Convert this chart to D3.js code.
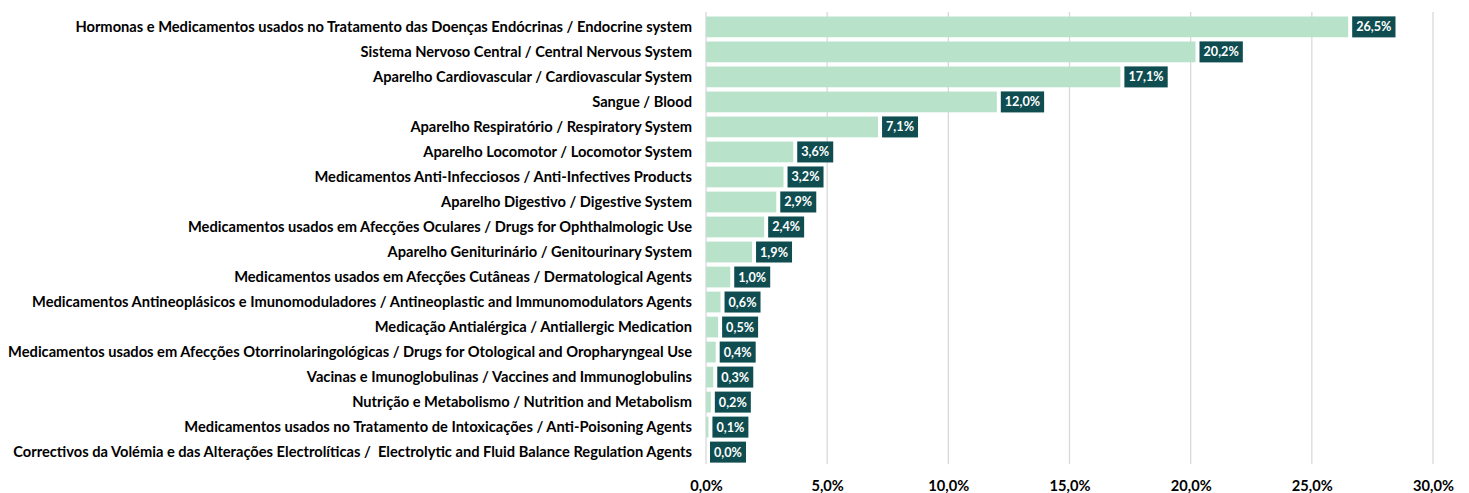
<!DOCTYPE html>
<html><head><meta charset="utf-8">
<script src="https://cdn.jsdelivr.net/npm/d3@7"></script>
<style>body{margin:0;background:#fff;} svg{display:block;} text{white-space:pre;}</style>
</head><body>
<svg id="c" width="1469" height="493"></svg>
<script>
const categories = [
"Hormonas e Medicamentos usados no Tratamento das Doenças Endócrinas / Endocrine system",
"Sistema Nervoso Central / Central Nervous System",
"Aparelho Cardiovascular / Cardiovascular System",
"Sangue / Blood",
"Aparelho Respiratório / Respiratory System",
"Aparelho Locomotor / Locomotor System",
"Medicamentos Anti-Infecciosos / Anti-Infectives Products",
"Aparelho Digestivo / Digestive System",
"Medicamentos usados em Afecções Oculares / Drugs for Ophthalmologic Use",
"Aparelho Geniturinário / Genitourinary System",
"Medicamentos usados em Afecções Cutâneas / Dermatological Agents",
"Medicamentos Antineoplásicos e Imunomoduladores / Antineoplastic and Immunomodulators Agents",
"Medicação Antialérgica / Antiallergic Medication",
"Medicamentos usados em Afecções Otorrinolaringológicas / Drugs for Otological and Oropharyngeal Use",
"Vacinas e Imunoglobulinas / Vaccines and Immunoglobulins",
"Nutrição e Metabolismo / Nutrition and Metabolism",
"Medicamentos usados no Tratamento de Intoxicações / Anti-Poisoning Agents",
"Correctivos da Volémia e das Alterações Electrolíticas /  Electrolytic and Fluid Balance Regulation Agents"
];
const values = [26.5,20.2,17.1,12.0,7.1,3.6,3.2,2.9,2.4,1.9,1.0,0.6,0.5,0.4,0.3,0.2,0.1,0.0];
const ticks = [0,5,10,15,20,25,30];

const svg = d3.select("#c");
const FONT = "Lato,'Open Sans',sans-serif";
const x = d3.scaleLinear().domain([0,30]).range([706,1433]);
const y = d3.scaleBand().domain(categories).range([14.5,464.5]).paddingInner(0.17).paddingOuter(0.08);
const fmt = v => v.toFixed(1).replace(".", ",") + "%";

// gridlines
svg.append("g").selectAll("line").data(ticks).join("line")
  .attr("x1", d=>x(d)).attr("x2", d=>x(d)).attr("y1", 12).attr("y2", 464)
  .attr("stroke", "#d9d9d9").attr("stroke-width", 1.3);

// bars
svg.append("g").selectAll("rect").data(values).join("rect")
  .attr("x", x(0)).attr("y", (d,i)=>y(categories[i]))
  .attr("width", d=>Math.max(0, x(d)-x(0))).attr("height", y.bandwidth())
  .attr("fill", "#b9e2cb");

// category labels (squeezed horizontally to mimic the condensed original face)
const LX = 692;
const lg = svg.append("g");
const labels = lg.selectAll("text").data(categories).join("text")
  .attr("x", 0).attr("y", d=>y(d)+y.bandwidth()/2).attr("dy","0.36em")
  .attr("text-anchor","end").attr("font-family",FONT).attr("font-size",14.5).attr("font-weight","bold")
  .attr("fill","#000").text(d=>d);
let maxW = 0; labels.each(function(){ maxW = Math.max(maxW, this.getComputedTextLength()); });
const sx = 684 / maxW;
lg.attr("transform", `translate(${LX},0) scale(${sx},1)`);

// axis
const ax = svg.append("g").attr("transform","translate(0,476)")
  .call(d3.axisBottom(x).tickValues(ticks).tickFormat(fmt).tickSize(0));
ax.select(".domain").remove();
ax.selectAll("text").attr("font-family",FONT).attr("font-size",14.5).attr("font-weight","bold").attr("fill","#000")
  .attr("dy","0.85em").attr("x",0).attr("transform",`scale(${sx},1)`);

// value labels
const vl = svg.append("g").selectAll("g").data(values).join("g");
vl.each(function(d,i){
  const g = d3.select(this);
  const bx = x(d) + 4, by = y(categories[i]) + y.bandwidth()/2 - 10.5;
  g.attr("transform", `translate(${bx},${by})`);
  const t = g.append("text").attr("font-family",FONT).attr("font-size",12.5).attr("font-weight","bold")
    .attr("fill","#fff").text(fmt(d));
  const w = t.node().getComputedTextLength() * sx;
  g.insert("rect","text").attr("x",0).attr("y",0).attr("width",w+8).attr("height",21).attr("fill","#0f4d51");
  t.attr("transform", `translate(4,10.5) scale(${sx},1)`).attr("dy","0.36em");
});
</script>
</body></html>
